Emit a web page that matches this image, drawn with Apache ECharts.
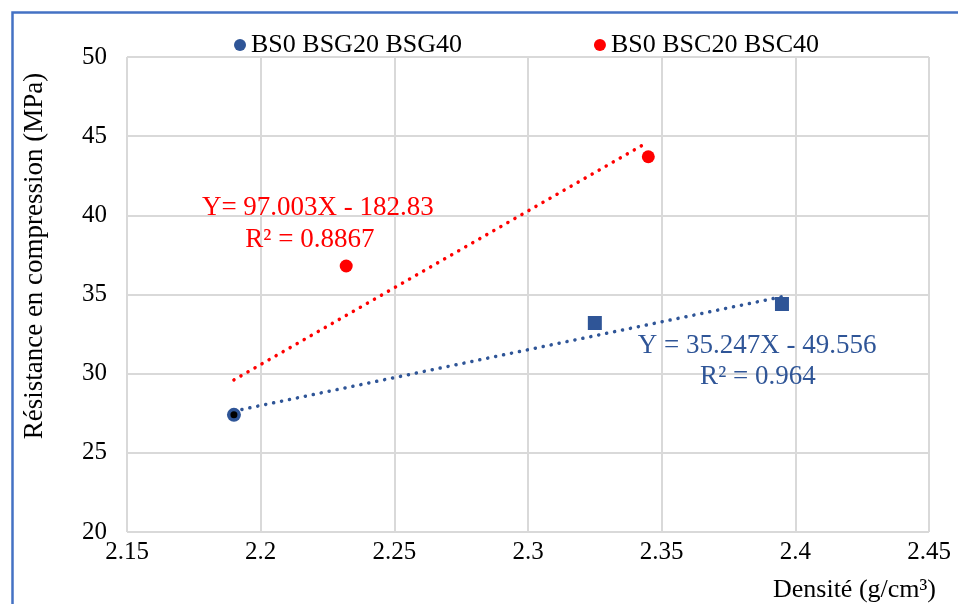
<!DOCTYPE html>
<html>
<head>
<meta charset="utf-8">
<script src="https://cdn.jsdelivr.net/npm/echarts@6/dist/echarts.min.js"></script>
<style>html,body{margin:0;padding:0;background:#fff}#c{width:958px;height:604px}</style>
</head>
<body>
<div id="c"></div>
<script>
// ---- data ----
const seriesNames = ['BS0 BSG20 BSG40', 'BS0 BSC20 BSC40'];
const mixNamesG = ['BS0', 'BSG20', 'BSG40'];
const densityG = [2.19, 2.325, 2.395];
const strengthG = [27.4, 33.2, 34.4];
const mixNamesC = ['BS0', 'BSC20', 'BSC40'];
const densityC = [2.19, 2.232, 2.345];
const strengthC = [27.4, 36.8, 43.7];
// linear trendlines (from the equations shown on the chart)
const trendG = { slope: 35.247, intercept: -49.556, r2: 0.964 };
const trendC = { slope: 97.003, intercept: -182.83, r2: 0.8867 };
const xTicks = [2.15, 2.2, 2.25, 2.3, 2.35, 2.4, 2.45];
const yTicks = [20, 25, 30, 35, 40, 45, 50];
const xTitle = 'Densité (g/cm³)';
const yTitle = 'Résistance en compression (MPa)';
const eqTextC = ['Y= 97.003X - 182.83', 'R² = 0.8867'];
const eqTextG = ['Y = 35.247X - 49.556', 'R² = 0.964'];

// ---- chart ----
const FONT = "'Liberation Serif','Times New Roman',serif";
const BLUE = '#2F5597';
const RED = '#FF0000';
const chart = echarts.init(document.getElementById('c'), null, { renderer: 'canvas' });

function trendPts(t, xs) {
  const lo = Math.min(...xs), hi = Math.max(...xs);
  return [[lo, t.slope * lo + t.intercept], [hi, t.slope * hi + t.intercept]];
}

const gData = densityG.map((x, i) => ({
  name: mixNamesG[i], value: [x, strengthG[i]],
  symbol: i === 0 ? 'circle' : 'rect', symbolSize: 14
}));
const cData = densityC.map((x, i) => ({
  name: mixNamesC[i], value: [x, strengthC[i]],
  symbol: 'circle', symbolSize: i === 0 ? 7 : 13,
  itemStyle: i === 0 ? { color: '#000', opacity: 1 } : undefined
}));

const dotted = { type: [0.1, 8], cap: 'round', width: 3.5 };

chart.setOption({
  animation: false,
  textStyle: { fontFamily: FONT },
  grid: { left: 127, top: 57, right: 29, bottom: 72 },
  legend: {
    top: 27, left: 229, itemGap: 132, itemWidth: 12, itemHeight: 12,
    textStyle: { fontFamily: FONT, fontSize: 26, color: '#000' },
    data: [{ name: seriesNames[0], icon: 'circle' }, { name: seriesNames[1], icon: 'circle' }]
  },
  xAxis: {
    type: 'value', min: xTicks[0], max: xTicks[xTicks.length - 1], interval: 0.05,
    axisLine: { show: false }, axisTick: { show: false },
    splitLine: { show: true, lineStyle: { color: '#d9d9d9', width: 2 } },
    axisLabel: { fontFamily: FONT, fontSize: 25, color: '#000', margin: 8,
      formatter: v => String(+(+v).toFixed(2)) }
  },
  yAxis: {
    type: 'value', min: yTicks[0], max: yTicks[yTicks.length - 1], interval: 5,
    axisLine: { show: false }, axisTick: { show: false },
    splitLine: { show: true, lineStyle: { color: '#d9d9d9', width: 2 } },
    axisLabel: { fontFamily: FONT, fontSize: 25, color: '#000', margin: 20 }
  },
  graphic: [
    { type: 'rect', left: 10, top: 10, shape: { x: 0, y: 0, width: 1200, height: 1200 },
      style: { fill: 'none', stroke: '#4472C4', lineWidth: 2.5 }, z: 100, silent: true },
    { type: 'text', x: 35, y: 256, rotation: Math.PI / 2,
      style: { text: yTitle, font: "27px " + FONT, fill: '#000', textAlign: 'center', textVerticalAlign: 'middle' } },
    { type: 'text', x: 936, y: 590,
      style: { text: xTitle, font: "26px " + FONT, fill: '#000', textAlign: 'right', textVerticalAlign: 'middle' } }
  ],
  series: [
    { name: seriesNames[0] + ' trend', type: 'line', data: trendPts(trendG, densityG), showSymbol: false,
      symbol: 'none', lineStyle: Object.assign({ color: BLUE }, dotted), z: 1, silent: true },
    { name: seriesNames[1] + ' trend', type: 'line', data: trendPts(trendC, densityC), showSymbol: false,
      symbol: 'none', lineStyle: Object.assign({ color: RED }, dotted), z: 1, silent: true },
    { name: seriesNames[0], type: 'scatter', data: gData, itemStyle: { color: BLUE, opacity: 1 }, z: 3 },
    { name: seriesNames[1], type: 'scatter', data: cData, itemStyle: { color: RED, opacity: 1 }, z: 4 },
    { name: 'eq', type: 'scatter', symbolSize: 0, silent: true, z: 5, itemStyle: { opacity: 1 },
      data: [
        { value: [2.2214, 40.46], label: { formatter: eqTextC[0], color: RED } },
        { value: [2.2184, 38.44], label: { formatter: eqTextC[1], color: RED } },
        { value: [2.3857, 31.75], label: { formatter: eqTextG[0], color: BLUE } },
        { value: [2.3860, 29.79], label: { formatter: eqTextG[1], color: BLUE } }
      ],
      label: { show: true, position: 'inside', fontFamily: FONT, fontSize: 27 }
    }
  ]
});
</script>
</body>
</html>
